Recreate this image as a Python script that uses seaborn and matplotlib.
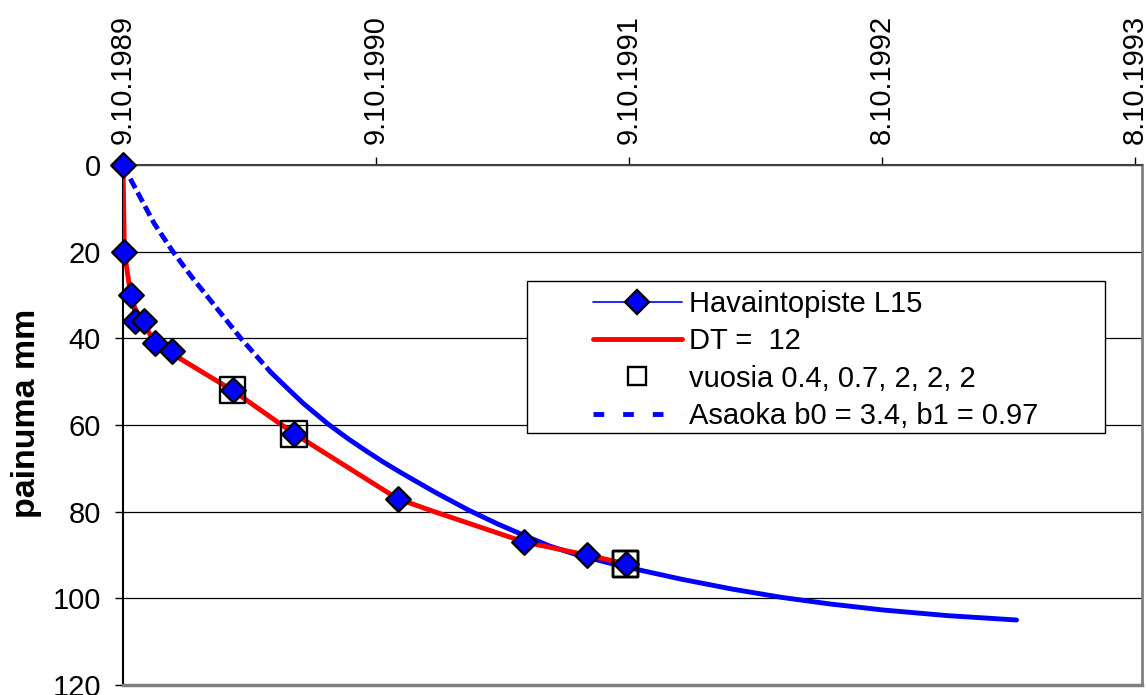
import matplotlib
matplotlib.use("Agg")
import matplotlib.pyplot as plt
import seaborn as sns
import pandas as pd
from matplotlib.lines import Line2D
from matplotlib.patches import Rectangle

# ---------------- data (days since 9.10.1989, settlement mm) ----------------
obs_days = [0, 1, 11, 17, 31, 46, 70, 158, 247, 396, 579, 669, 725]
obs_mm = [0, 20, 30, 36, 36, 41, 43, 52, 62, 77, 87, 90, 92]

dt_days = [0, 2, 11, 17, 33, 46, 70, 158, 247, 396, 449, 579, 669, 725]
dt_mm = [0, 20, 30, 33, 37.5, 41, 43.5, 52, 62, 77, 80, 87, 90, 92]

year_days = [158, 247, 725, 725, 725]
year_mm = [52, 62, 92, 92, 92]

asaoka_fit_days = [0, 20, 45, 72, 100, 135, 170, 213]
asaoka_fit_mm = [0, 6, 13.5, 20, 26, 33, 40, 47.8]
asaoka_pred_days = [213, 235, 260, 296, 325, 350, 375, 401, 450, 498, 540, 579,
                    615, 650, 700, 749, 806, 880, 951, 1020, 1097, 1190, 1289]
asaoka_pred_mm = [47.8, 51.2, 55.0, 59.8, 63.2, 65.9, 68.5, 71.0, 75.5, 79.6, 82.8,
                  85.5, 87.9, 89.7, 91.8, 93.6, 95.6, 97.9, 99.8, 101.3, 102.7,
                  104.0, 105.0]

tick_days = [0, 365, 730, 1095, 1460]
tick_labels = ["9.10.1989", "9.10.1990", "9.10.1991", "8.10.1992", "8.10.1993"]
y_ticks = [0, 20, 40, 60, 80, 100, 120]

legend_labels = ["Havaintopiste L15", "DT =  12", "vuosia 0.4, 0.7, 2, 2, 2",
                 "Asaoka b0 = 3.4, b1 = 0.97"]

# ---------------- style ----------------
sns.set_theme(style="white")
plt.rcParams["font.family"] = ["Liberation Sans", "DejaVu Sans"]
plt.rcParams["font.size"] = 21
plt.rcParams["text.color"] = "black"
plt.rcParams["axes.labelcolor"] = "black"

W, H = 1147, 695
fig = plt.figure(figsize=(W / 100, H / 100), dpi=100)
ax = fig.add_axes([123 / W, 10 / H, (1142 - 123) / W, 520 / H])

obs = pd.DataFrame({"day": obs_days, "mm": obs_mm})
dt = pd.DataFrame({"day": dt_days, "mm": dt_mm})
yr = pd.DataFrame({"day": year_days, "mm": year_mm})
af = pd.DataFrame({"day": asaoka_fit_days, "mm": asaoka_fit_mm})
ap = pd.DataFrame({"day": asaoka_pred_days, "mm": asaoka_pred_mm})

# Asaoka curve (dashed over the fitting period, solid prediction)
sns.lineplot(data=af, x="day", y="mm", ax=ax, sort=False, estimator=None,
             color="blue", lw=3.5, zorder=2)
ax.lines[-1].set_dashes((2.2, 1.0))
sns.lineplot(data=ap, x="day", y="mm", ax=ax, sort=False, estimator=None,
             color="blue", lw=3.5, zorder=2)

# observations line (thin)
sns.lineplot(data=obs, x="day", y="mm", ax=ax, sort=False, estimator=None,
             color="blue", lw=1.2, zorder=3)
# DT model
sns.lineplot(data=dt, x="day", y="mm", ax=ax, sort=False, estimator=None,
             color="red", lw=3.5, zorder=4)
# year squares
sns.scatterplot(data=yr, x="day", y="mm", ax=ax, marker="s", s=18.5 ** 2,
                facecolor="none", edgecolor="black", linewidth=1.7, zorder=5,
                clip_on=False)
# observation diamonds
sns.scatterplot(data=obs, x="day", y="mm", ax=ax, marker="D", s=12.5 ** 2,
                color="blue", edgecolor="black", linewidth=1.7, zorder=6,
                clip_on=False)

# ---------------- axes ----------------
ax.set_xlim(0, 1470)
ax.set_ylim(120, 0)
ax.set_xticks(tick_days)
ax.set_xticklabels(tick_labels)
ax.set_yticks(y_ticks)
ax.xaxis.tick_top()
ax.tick_params(axis="x", top=True, bottom=False, labeltop=True, labelbottom=False,
               labelrotation=90, direction="out", length=6, width=1, pad=9,
               labelsize=21, colors="black")
ax.tick_params(axis="y", left=True, direction="out", length=6, width=1, pad=10,
               labelsize=21, colors="black")
ax.set_xlabel("")
ax.set_ylabel("painuma mm", fontsize=24.5, fontweight="bold")
ax.yaxis.set_label_coords(-0.0795, 0.523)

ax.yaxis.grid(True, color="black", lw=0.9)
ax.xaxis.grid(False)
ax.spines["top"].set_color("#404040")
ax.spines["top"].set_linewidth(1.5)
ax.spines["left"].set_color("black")
ax.spines["left"].set_linewidth(1.5)
ax.spines["bottom"].set_color("#808080")
ax.spines["bottom"].set_linewidth(2.5)
ax.spines["right"].set_color("#808080")
ax.spines["right"].set_linewidth(2.0)

# ---------------- legend ----------------
frame = Rectangle((527 / W, 1 - 433 / H), 578 / W, 152 / H, transform=fig.transFigure,
                  facecolor="white", edgecolor="black", lw=1.0, zorder=10)
fig.patches.append(frame)

handles = [
    Line2D([], [], color="blue", lw=1.2, marker="D", ms=12, mfc="blue",
           mec="black", mew=1.7),
    Line2D([], [], color="red", lw=3.5),
    Line2D([], [], ls="none", marker="s", ms=13, mfc="none", mec="black", mew=1.7),
    Line2D([], [], color="blue", lw=3.5, ls=(0, (2.2, 3.9))),
]
leg = fig.legend(handles, legend_labels, loc="upper left",
                 bbox_to_anchor=(593 / W, 1 - 290 / H), frameon=False,
                 fontsize=21, handlelength=3.05, handletextpad=0.25,
                 labelspacing=0.32, borderpad=0, borderaxespad=0)
leg.set_zorder(11)
for t in leg.get_texts():
    t.set_color("black")

fig.savefig("out.png", dpi=100)
